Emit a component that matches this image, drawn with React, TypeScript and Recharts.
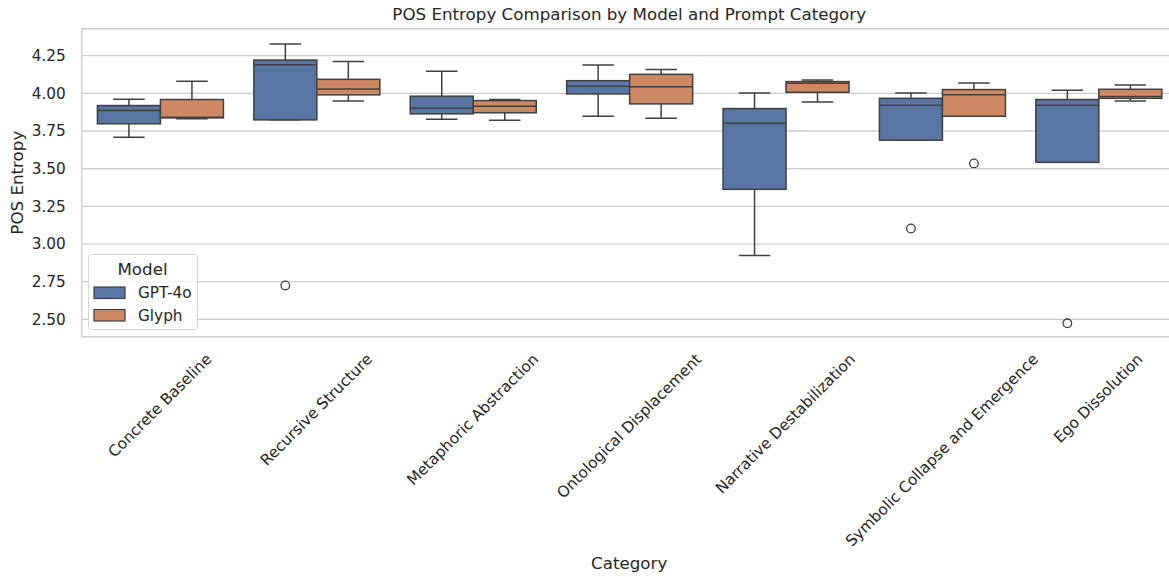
import React from 'react';
import { ComposedChart, Bar, XAxis, YAxis, CartesianGrid, ReferenceLine, Legend } from 'recharts';

const categories = [
  'Concrete Baseline',
  'Recursive Structure',
  'Metaphoric Abstraction',
  'Ontological Displacement',
  'Narrative Destabilization',
  'Symbolic Collapse and Emergence',
  'Ego Dissolution',
];

const models = ['GPT-4o', 'Glyph'];

const gptWhiskerLow = [3.709, 3.824, 3.828, 3.848, 2.924, 3.689, 3.542];
const gptQ1 = [3.798, 3.824, 3.864, 3.996, 3.363, 3.689, 3.542];
const gptMedian = [3.886, 4.19, 3.901, 4.047, 3.802, 3.921, 3.921];
const gptQ3 = [3.919, 4.221, 3.981, 4.084, 3.899, 3.967, 3.959];
const gptWhiskerHigh = [3.961, 4.327, 4.146, 4.188, 4.003, 4.003, 4.02];
const gptOutliers: number[][] = [[], [2.725], [], [], [], [3.103], [2.474]];

const glyphWhiskerLow = [3.831, 3.95, 3.822, 3.835, 3.943, 3.848, 3.95];
const glyphQ1 = [3.837, 3.99, 3.871, 3.93, 4.007, 3.848, 3.967];
const glyphMedian = [3.841, 4.029, 3.914, 4.043, 4.067, 3.99, 3.979];
const glyphQ3 = [3.959, 4.093, 3.952, 4.126, 4.078, 4.025, 4.027];
const glyphWhiskerHigh = [4.08, 4.212, 3.959, 4.159, 4.089, 4.069, 4.056];
const glyphOutliers: number[][] = [[], [], [], [], [], [3.535], []];

const yTicks = [2.5, 2.75, 3.0, 3.25, 3.5, 3.75, 4.0, 4.25];
const yMin = 2.385;
const yMax = 4.429;

const COLORS = ['#5975A4', '#CC8963'];
const LINE = '#404040';
const GRID = '#cccccc';
const TEXT = '#262626';
const FONT = '"DejaVu Sans", Verdana, sans-serif';
const TICK_FS = 15.3;
const LABEL_FS = 16.7;

const data = categories.map((c, i) => ({
  category: c,
  gpt: [gptWhiskerLow[i], gptWhiskerHigh[i]],
  gptStats: {
    lo: gptWhiskerLow[i], q1: gptQ1[i], med: gptMedian[i], q3: gptQ3[i], hi: gptWhiskerHigh[i], out: gptOutliers[i],
  },
  glyph: [glyphWhiskerLow[i], glyphWhiskerHigh[i]],
  glyphStats: {
    lo: glyphWhiskerLow[i], q1: glyphQ1[i], med: glyphMedian[i], q3: glyphQ3[i], hi: glyphWhiskerHigh[i], out: glyphOutliers[i],
  },
}));

const makeBoxShape = (statsKey: string, color: string) => (props: any) => {
  const { x, y, width, height, payload } = props;
  const s = payload[statsKey];
  const top = Math.min(y, y + height);
  const h = Math.abs(height);
  const k = s.hi - s.lo > 0 ? h / (s.hi - s.lo) : 0;
  const py = (v: number) => top + (s.hi - v) * k;
  const cx = x + width / 2;
  const capHalf = width / 4;
  return (
    <g>
      <line x1={cx} x2={cx} y1={py(s.hi)} y2={py(s.q3)} stroke={LINE} strokeWidth={1.5} />
      <line x1={cx} x2={cx} y1={py(s.q1)} y2={py(s.lo)} stroke={LINE} strokeWidth={1.5} />
      <line x1={cx - capHalf} x2={cx + capHalf} y1={py(s.hi)} y2={py(s.hi)} stroke={LINE} strokeWidth={1.5} />
      <line x1={cx - capHalf} x2={cx + capHalf} y1={py(s.lo)} y2={py(s.lo)} stroke={LINE} strokeWidth={1.5} />
      <rect x={x} y={py(s.q3)} width={width} height={Math.max(py(s.q1) - py(s.q3), 0.5)} fill={color} stroke={LINE} strokeWidth={1.5} />
      <line x1={x} x2={x + width} y1={py(s.med)} y2={py(s.med)} stroke={LINE} strokeWidth={1.5} />
      {s.out.map((o: number, j: number) => (
        <circle key={j} cx={cx} cy={py(o)} r={4.3} fill="none" stroke={LINE} strokeWidth={1.3} />
      ))}
    </g>
  );
};

let measureCtx: CanvasRenderingContext2D | null = null;
const measure = (t: string) => {
  if (!measureCtx) {
    const c = document.createElement('canvas');
    measureCtx = c.getContext('2d');
  }
  if (!measureCtx) return t.length * 8.4;
  measureCtx.font = `${TICK_FS}px "DejaVu Sans"`;
  return measureCtx.measureText(t).width;
};

const XTick = (props: any) => {
  const { x, y, payload } = props;
  const label = String(payload.value);
  const L = measure(label);
  const yc = y + 15 + (L + 14) * 0.3536;
  return (
    <text
      x={x}
      y={yc}
      textAnchor="middle"
      dominantBaseline="central"
      transform={`rotate(-45 ${x} ${yc})`}
      fontSize={TICK_FS}
      fontFamily={FONT}
      fill={TEXT}
    >
      {label}
    </text>
  );
};

const LegendBox = () => (
  <svg width={112} height={78} style={{ display: 'block' }}>
    <rect x={0.5} y={0.5} width={109} height={75} rx={3} fill="rgba(255,255,255,0.85)" stroke="#d6d6d6" strokeWidth={1} />
    <text x={54.5} y={21} textAnchor="middle" fontSize={LABEL_FS} fontFamily={FONT} fill={TEXT}>Model</text>
    {models.map((m, i) => (
      <g key={m}>
        <rect x={6} y={33 + i * 22.5} width={31} height={11.5} fill={COLORS[i]} stroke={LINE} strokeWidth={1.2} />
        <text x={50} y={44 + i * 22.5} fontSize={TICK_FS} fontFamily={FONT} fill={TEXT}>{m}</text>
      </g>
    ))}
  </svg>
);

export default function App() {
  const W = 1185;
  const H = 577;
  const plotLeft = 81.8;
  const plotRight = 1176.6;
  const plotTop = 28.7;
  const plotBottom = 336.7;
  const yAxisW = 60;
  const xAxisH = 30;
  return (
    <div style={{ position: 'absolute', left: 0, top: 0, width: 1169, height: 577, overflow: 'hidden', background: '#fff', fontFamily: FONT }}>
      <div style={{ position: 'relative', width: W, height: H }}>
        <ComposedChart
          width={W}
          height={H}
          data={data}
          margin={{ top: plotTop, left: plotLeft - yAxisW, right: W - plotRight, bottom: H - plotBottom - xAxisH }}
          barCategoryGap="10%"
          barGap={0}
        >
          <CartesianGrid vertical={false} stroke={GRID} strokeWidth={1.3} />
          <XAxis
            dataKey="category"
            type="category"
            height={xAxisH}
            interval={0}
            tickLine={false}
            tickSize={0}
            tickMargin={0}
            axisLine={{ stroke: GRID, strokeWidth: 1.3 }}
            tick={<XTick />}
          />
          <YAxis
            type="number"
            domain={[yMin, yMax]}
            ticks={yTicks}
            allowDataOverflow
            width={yAxisW}
            tickLine={false}
            tickSize={0}
            tickMargin={16}
            axisLine={{ stroke: GRID, strokeWidth: 1.3 }}
            tickFormatter={(v: number) => v.toFixed(2)}
            tick={{ fontSize: TICK_FS, fontFamily: FONT, fill: TEXT }}
          />
          <ReferenceLine y={yMax} stroke={GRID} strokeWidth={1.3} ifOverflow="extendDomain" />
          <Bar dataKey="gpt" name="GPT-4o" fill={COLORS[0]} isAnimationActive={false} shape={makeBoxShape('gptStats', COLORS[0])} />
          <Bar dataKey="glyph" name="Glyph" fill={COLORS[1]} isAnimationActive={false} shape={makeBoxShape('glyphStats', COLORS[1])} />
          <Legend
            layout="vertical"
            align="center"
            verticalAlign="middle"
            content={() => <LegendBox />}
            wrapperStyle={{ position: 'absolute', left: 88, top: 254, width: 112, height: 78 }}
          />
        </ComposedChart>
        <svg width={W} height={H} style={{ position: 'absolute', left: 0, top: 0, pointerEvents: 'none' }}>
          <text x={(plotLeft + plotRight) / 2} y={20} textAnchor="middle" fontSize={LABEL_FS} fontFamily={FONT} fill={TEXT}>
            POS Entropy Comparison by Model and Prompt Category
          </text>
          <text x={(plotLeft + plotRight) / 2} y={569} textAnchor="middle" fontSize={LABEL_FS} fontFamily={FONT} fill={TEXT}>
            Category
          </text>
          <text
            x={23}
            y={(plotTop + plotBottom) / 2}
            textAnchor="middle"
            fontSize={LABEL_FS}
            fontFamily={FONT}
            fill={TEXT}
            transform={`rotate(-90 23 ${(plotTop + plotBottom) / 2})`}
          >
            POS Entropy
          </text>
        </svg>
      </div>
    </div>
  );
}
